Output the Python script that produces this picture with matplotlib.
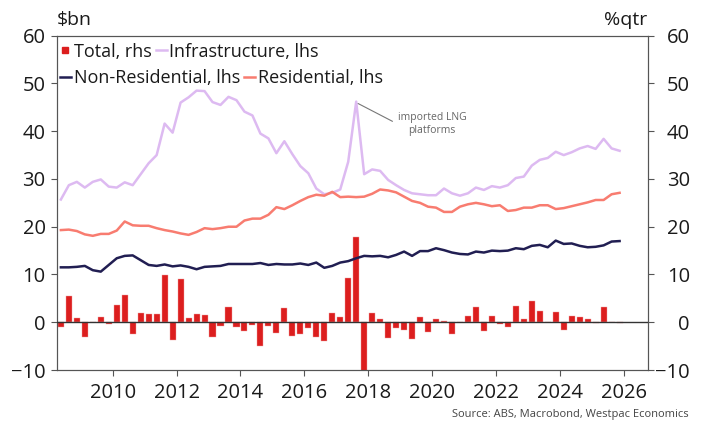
import numpy as np
import pandas as pd
import matplotlib
matplotlib.use("Agg")
import matplotlib.pyplot as plt
from matplotlib.lines import Line2D

plt.rcParams['font.family'] = ['Open Sans', 'DejaVu Sans']

# Quarterly engineering construction, 2008Q2 - 2025Q4
quarters = pd.period_range("2008Q2", "2025Q4", freq="Q")

# Total work done, % change over the quarter (rhs)
total = [-0.9, 5.5, 0.9, -3.1, 0.05, 1.0, -0.3, 3.6, 5.7, -2.5,
         2.0, 1.7, 1.7, 9.8, -3.8, 9.0, 0.9, 1.7, 1.6, -3.1,
         -0.7, 3.2, -0.9, -1.8, -0.6, -4.9, -0.8, -2.3, 2.9, -2.9,
         -2.4, -1.3, -3.1, -3.9, 1.9, 1.0, 9.2, 17.9, -10.3, 1.9,
         0.7, -3.4, -1.3, -1.7, -3.6, 1.0, -2.0, 0.6, 0.35, -2.4,
         0.1, 1.4, 3.1, -1.8, 1.4, -0.4, -0.9, 3.4, 0.6, 4.5,
         2.4, 0.05, 2.2, -1.7, 1.4, 1.0, 0.7, -0.2, 3.1, 0.05,
         -0.1]

# Work done by segment, $bn (lhs)
infrastructure = [25.7, 28.7, 29.4, 28.2, 29.4, 29.9, 28.4, 28.2, 29.3, 28.7,
                  31.0, 33.3, 35.0, 41.6, 39.7, 46.0, 47.1, 48.5, 48.4, 46.1,
                  45.5, 47.2, 46.5, 44.1, 43.3, 39.5, 38.5, 35.4, 37.9, 35.2,
                  32.7, 31.2, 28.0, 26.8, 27.1, 27.8, 33.6, 46.2, 31.0, 32.0,
                  31.7, 29.8, 28.7, 27.7, 27.0, 26.8, 26.6, 26.6, 28.0, 27.0,
                  26.5, 27.0, 28.2, 27.7, 28.5, 28.2, 28.7, 30.2, 30.5, 32.8,
                  34.0, 34.4, 35.7, 35.0, 35.6, 36.4, 36.9, 36.3, 38.4, 36.4,
                  35.9]

non_residential = [11.5, 11.5, 11.6, 11.8, 10.9, 10.6, 12.0, 13.4, 13.9, 14.0,
                   13.0, 12.0, 11.8, 12.1, 11.7, 11.9, 11.6, 11.1, 11.6, 11.7,
                   11.8, 12.2, 12.2, 12.2, 12.2, 12.4, 12.0, 12.2, 12.1, 12.1,
                   12.3, 12.0, 12.5, 11.4, 11.8, 12.5, 12.8, 13.4, 13.9, 13.8,
                   13.9, 13.6, 14.1, 14.8, 13.9, 14.9, 14.9, 15.5, 15.1, 14.6,
                   14.3, 14.2, 14.8, 14.6, 15.0, 14.9, 15.0, 15.5, 15.3, 16.0,
                   16.2, 15.7, 17.1, 16.4, 16.5, 16.0, 15.7, 15.8, 16.1, 16.9,
                   17.0]

residential = [19.3, 19.4, 19.1, 18.4, 18.1, 18.5, 18.5, 19.2, 21.1, 20.3,
               20.2, 20.2, 19.7, 19.3, 19.0, 18.6, 18.3, 18.9, 19.7, 19.5,
               19.7, 20.0, 20.0, 21.3, 21.7, 21.7, 22.5, 24.1, 23.7, 24.5,
               25.4, 26.2, 26.7, 26.5, 27.3, 26.2, 26.3, 26.2, 26.3, 26.9,
               27.8, 27.6, 27.2, 26.3, 25.4, 25.0, 24.2, 24.0, 23.1, 23.1,
               24.2, 24.7, 25.0, 24.7, 24.3, 24.5, 23.3, 23.5, 24.0, 24.0,
               24.5, 24.5, 23.7, 23.9, 24.3, 24.7, 25.1, 25.6, 25.6, 26.8,
               27.1]

year_ticks = list(range(2010, 2027, 2))
y_ticks = list(range(-10, 61, 10))
lng_quarter = pd.Period("2017Q3", freq="Q")

# Plot each quarter at its mid-point, in decimal years
x = np.asarray(quarters.year + (quarters.quarter - 0.5) / 4.0, dtype=float)

c_total = '#DC1E1E'
c_infra = '#DDBAF1'
c_nonres = '#211E52'
c_res = '#F87C70'
c_text = '#1A1A1A'
c_spine = '#555555'

fig = plt.figure(figsize=(7.02, 4.21), dpi=100)
ax = fig.add_axes([0.0808, 0.1211, 0.8416, 0.7941])
ax2 = ax.twinx()

ax.bar(x, total, width=0.19, color=c_total, edgecolor='#F0A0A0',
       linewidth=0.3, zorder=2)

ax2.plot(x, infrastructure, color=c_infra, lw=1.8)
ax2.plot(x, non_residential, color=c_nonres, lw=1.8)
ax2.plot(x, residential, color=c_res, lw=1.8)
ax2.axhline(0, color='#333333', lw=1.0, zorder=5)

for a in (ax, ax2):
    a.set_ylim(-10, 60)
    a.set_xlim(2008.245, 2026.75)
    a.set_yticks(y_ticks)
    for s in a.spines.values():
        s.set_color(c_spine)
        s.set_linewidth(0.8)
    a.tick_params(axis='both', colors=c_spine, labelcolor=c_text,
                  labelsize=14.5, length=4, width=0.8, direction='out')
ax.set_xticks(year_ticks)
ax.tick_params(axis='x', pad=5)
ax.tick_params(axis='y', pad=4)
# right-hand labels are right-aligned against a common edge
ax2.tick_params(axis='y', pad=26.5)
for lab in ax2.get_yticklabels():
    lab.set_horizontalalignment('right')

ax.text(0.0, 1.02, '$bn', transform=ax.transAxes, ha='left', va='bottom',
        fontsize=14, color=c_text)
ax2.text(1.0, 1.02, '%qtr', transform=ax2.transAxes, ha='right', va='bottom',
         fontsize=14, color=c_text)

# Legend laid out as two free-flowing rows
row1 = [Line2D([], [], color=c_total, marker='s', markersize=5, lw=0),
        Line2D([], [], color=c_infra, lw=1.8)]
row2 = [Line2D([], [], color=c_nonres, lw=1.8),
        Line2D([], [], color=c_res, lw=1.8)]
leg_kw = dict(loc='center left', ncol=2, frameon=False, fontsize=13,
              handlelength=0.6, handletextpad=0.15, columnspacing=0.25,
              borderpad=0, borderaxespad=0, labelcolor=c_text)
leg1 = ax2.legend(row1, ['Total, rhs', 'Infrastructure, lhs'],
                  bbox_to_anchor=(60 / 702, 1 - 51.7 / 421),
                  bbox_transform=fig.transFigure, **leg_kw)
ax2.add_artist(leg1)
ax2.legend(row2, ['Non-Residential, lhs', 'Residential, lhs'],
           bbox_to_anchor=(60 / 702, 1 - 78.3 / 421),
           bbox_transform=fig.transFigure, **leg_kw)

k = list(quarters).index(lng_quarter)
ax2.annotate('imported LNG\nplatforms', xy=(x[k] + 0.06, infrastructure[k] - 0.4),
             xytext=(2020.0, 41.5), ha='center', va='center',
             fontsize=7.5, color='#666666', linespacing=1.25,
             arrowprops=dict(arrowstyle='-', color='#777777', lw=0.8,
                             relpos=(0.0, 0.5), shrinkA=2, shrinkB=0))

fig.text(689 / 702, 1 - 415 / 421, 'Source: ABS, Macrobond, Westpac Economics',
         ha='right', va='center', fontsize=8, color='#444444')

fig.savefig('out.png', dpi=100)
